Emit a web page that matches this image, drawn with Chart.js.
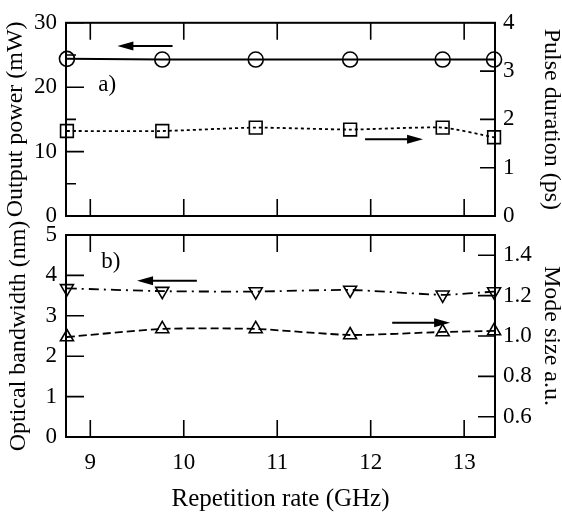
<!DOCTYPE html>
<html>
<head>
<meta charset="utf-8">
<script src="https://cdn.jsdelivr.net/npm/chart.js@4.4.1/dist/chart.umd.min.js"></script>
<style>
  html, body { margin: 0; padding: 0; background: #fff; }
  #wrap { position: relative; width: 562px; height: 512px; }
  #wrap canvas { position: absolute; left: 0; top: 0; }
</style>
</head>
<body>
<div id="wrap">
  <canvas id="panelA" width="562" height="512"></canvas>
  <canvas id="panelB" width="562" height="512"></canvas>
</div>
<script>
// Values
const repRate = [8.75, 9.77, 10.77, 11.78, 12.77, 13.32];
const outputPower = [24.4, 24.3, 24.3, 24.3, 24.3, 24.3];
const pulseDuration = [1.76, 1.76, 1.83, 1.79, 1.83, 1.63];
const bandwidth = [3.68, 3.61, 3.60, 3.64, 3.52, 3.60];
const modeSize = [0.995, 1.035, 1.035, 1.005, 1.02, 1.025];

const rateTicks = [9, 10, 11, 12, 13];
const powerTicks = [0, 10, 20, 30];
const powerMinor = [5, 15, 25];
const pulseTicks = [0, 1, 2, 3, 4];
const bandwidthTicks = [0, 1, 2, 3, 4, 5];
const modeTicks = [0.6, 0.8, 1.0, 1.2, 1.4];

Chart.defaults.font.family = 'Liberation Serif';
Chart.defaults.color = '#000';

const W = 562, H = 512;
const tickFont = { family: 'Liberation Serif', size: 23 };
const titleFont = { family: 'Liberation Serif', size: 24 };
const xTitleFont = { family: 'Liberation Serif', size: 25 };

const pts = ys => repRate.map((x, i) => ({ x, y: ys[i] }));
const useTicks = list => s => { s.ticks = list.map(value => ({ value })); };

// frame, inward tick marks, arrows and panel letters
const panelDecor = {
  id: 'panelDecor',
  beforeDatasetsDraw(chart, args, opts) {
    const { ctx, chartArea: a, scales } = chart;
    ctx.save();
    ctx.strokeStyle = '#000';
    ctx.lineWidth = 2;
    ctx.strokeRect(a.left, a.top, a.width, a.height);
    ctx.lineWidth = 1.6;
    ctx.beginPath();
    rateTicks.forEach(v => {
      const px = scales.x.getPixelForValue(v);
      ctx.moveTo(px, a.bottom);
      ctx.lineTo(px, a.bottom - opts.xTickLen);
      ctx.moveTo(px, a.top);
      ctx.lineTo(px, a.top + opts.xTickLen);
    });
    opts.yTicks.forEach(({ axis, values, len }) => {
      const sc = scales[axis];
      const x0 = sc.position === 'left' ? a.left : a.right;
      const dir = sc.position === 'left' ? 1 : -1;
      values.forEach(v => {
        const py = sc.getPixelForValue(v);
        ctx.moveTo(x0, py);
        ctx.lineTo(x0 + dir * len, py);
      });
    });
    ctx.stroke();
    ctx.restore();
  },
  afterDatasetsDraw(chart, args, opts) {
    const { ctx, scales } = chart;
    ctx.save();
    ctx.strokeStyle = '#000';
    ctx.fillStyle = '#000';
    ctx.lineWidth = 2;
    opts.arrows.forEach(({ from, to, y, axis }) => {
      const x1 = scales.x.getPixelForValue(from);
      const x2 = scales.x.getPixelForValue(to);
      const py = scales[axis].getPixelForValue(y);
      const dir = Math.sign(x2 - x1);
      ctx.beginPath();
      ctx.moveTo(x1, py);
      ctx.lineTo(x2 - dir * 10, py);
      ctx.stroke();
      ctx.beginPath();
      ctx.moveTo(x2, py);
      ctx.lineTo(x2 - dir * 16, py - 4.5);
      ctx.lineTo(x2 - dir * 16, py + 4.5);
      ctx.closePath();
      ctx.fill();
    });
    ctx.font = '23px "Liberation Serif"';
    ctx.textAlign = 'center';
    ctx.textBaseline = 'middle';
    opts.labels.forEach(({ text, x, y, axis }) => {
      ctx.fillText(text, scales.x.getPixelForValue(x), scales[axis].getPixelForValue(y));
    });
    ctx.restore();
  }
};

const hidden = { display: false, drawTicks: false };

// a) output power and pulse duration
new Chart(document.getElementById('panelA'), {
  type: 'line',
  data: {
    datasets: [
      {
        data: pts(outputPower),
        yAxisID: 'y',
        borderColor: '#000',
        borderWidth: 2,
        pointStyle: 'circle',
        pointRadius: 7.5,
        pointBorderWidth: 1.6,
        pointBorderColor: '#000',
        pointBackgroundColor: 'rgba(0,0,0,0)',
        tension: 0,
        clip: false
      },
      {
        data: pts(pulseDuration),
        yAxisID: 'y1',
        borderColor: '#000',
        borderWidth: 1.8,
        borderDash: [3, 3],
        pointStyle: 'rect',
        pointRadius: 9,
        pointBorderWidth: 1.6,
        pointBorderColor: '#000',
        pointBackgroundColor: 'rgba(0,0,0,0)',
        tension: 0.2,
        clip: false
      }
    ]
  },
  options: {
    responsive: false,
    animation: false,
    events: [],
    layout: { padding: { top: 15, left: 0, right: 0, bottom: 286 } },
    plugins: {
      legend: { display: false },
      tooltip: { enabled: false },
      panelDecor: {
        xTickLen: 17,
        yTicks: [
          { axis: 'y', values: powerTicks, len: 18 },
          { axis: 'y', values: powerMinor, len: 10 },
          { axis: 'y1', values: pulseTicks, len: 15 }
        ],
        arrows: [
          { from: 9.88, to: 9.29, y: 26.4, axis: 'y' },
          { from: 11.94, to: 12.56, y: 1.59, axis: 'y1' }
        ],
        labels: [{ text: 'a)', x: 9.18, y: 20.3, axis: 'y' }]
      }
    },
    scales: {
      x: {
        type: 'linear', min: 8.74, max: 13.33,
        grid: hidden, border: { display: false },
        ticks: { display: false },
        afterBuildTicks: useTicks(rateTicks),
        afterFit: s => { s.height = 10; }
      },
      y: {
        position: 'left', min: 0, max: 30,
        grid: hidden, border: { display: false },
        ticks: { font: tickFont, color: '#000', padding: 9 },
        afterBuildTicks: useTicks(powerTicks),
        title: { display: true, text: 'Output power (mW)', font: titleFont, color: '#000', padding: { top: 1, bottom: 0 } },
        afterFit: s => { s.width = 66; }
      },
      y1: {
        position: 'right', min: 0, max: 4,
        grid: hidden, border: { display: false },
        ticks: { font: tickFont, color: '#000', padding: 8 },
        afterBuildTicks: useTicks(pulseTicks),
        title: { display: true, text: 'Pulse duration (ps)', font: titleFont, color: '#000', padding: { top: -4, bottom: 0 } },
        afterFit: s => { s.width = W - 495; }
      }
    }
  },
  plugins: [panelDecor]
});

// b) optical bandwidth and mode size
new Chart(document.getElementById('panelB'), {
  type: 'line',
  data: {
    datasets: [
      {
        data: pts(bandwidth),
        yAxisID: 'y',
        borderColor: '#000',
        borderWidth: 1.8,
        borderDash: [10, 5, 2, 5],
        pointStyle: 'triangle',
        rotation: 180,
        pointRadius: 7.5,
        pointBorderWidth: 1.6,
        pointBorderColor: '#000',
        pointBackgroundColor: 'rgba(0,0,0,0)',
        tension: 0.2,
        clip: false
      },
      {
        data: pts(modeSize),
        yAxisID: 'y1',
        borderColor: '#000',
        borderWidth: 1.8,
        borderDash: [8, 4],
        pointStyle: 'triangle',
        pointRadius: 7.5,
        pointBorderWidth: 1.6,
        pointBorderColor: '#000',
        pointBackgroundColor: 'rgba(0,0,0,0)',
        tension: 0.2,
        clip: false
      }
    ]
  },
  options: {
    responsive: false,
    animation: false,
    events: [],
    layout: { padding: { top: 235, left: 0, right: 0, bottom: 0 } },
    plugins: {
      legend: { display: false },
      tooltip: { enabled: false },
      panelDecor: {
        xTickLen: 17,
        yTicks: [
          { axis: 'y', values: bandwidthTicks, len: 18 },
          { axis: 'y1', values: modeTicks, len: 17 }
        ],
        arrows: [
          { from: 10.14, to: 9.50, y: 3.87, axis: 'y' },
          { from: 12.23, to: 12.85, y: 1.066, axis: 'y1' }
        ],
        labels: [{ text: 'b)', x: 9.22, y: 4.33, axis: 'y' }]
      }
    },
    scales: {
      x: {
        type: 'linear', min: 8.74, max: 13.33,
        grid: hidden, border: { display: false },
        ticks: { font: tickFont, color: '#000', padding: 12 },
        afterBuildTicks: useTicks(rateTicks),
        title: { display: true, text: 'Repetition rate (GHz)', font: xTitleFont, color: '#000', padding: { top: 0, bottom: -2 } },
        afterFit: s => { s.height = H - 437; }
      },
      y: {
        position: 'left', min: 0, max: 5,
        grid: hidden, border: { display: false },
        ticks: { font: tickFont, color: '#000', padding: 9 },
        afterBuildTicks: useTicks(bandwidthTicks),
        title: { display: true, text: 'Optical bandwidth (nm)', font: titleFont, color: '#000', padding: { top: 4, bottom: 0 } },
        afterFit: s => { s.width = 66; }
      },
      y1: {
        position: 'right', min: 0.5, max: 1.5,
        grid: hidden, border: { display: false },
        ticks: { font: tickFont, color: '#000', padding: 8, callback: v => v.toFixed(1) },
        afterBuildTicks: useTicks(modeTicks),
        title: { display: true, text: 'Mode size a.u.', font: titleFont, color: '#000', padding: { top: -4, bottom: 0 } },
        afterFit: s => { s.width = W - 495; }
      }
    }
  },
  plugins: [panelDecor]
});
</script>
</body>
</html>
